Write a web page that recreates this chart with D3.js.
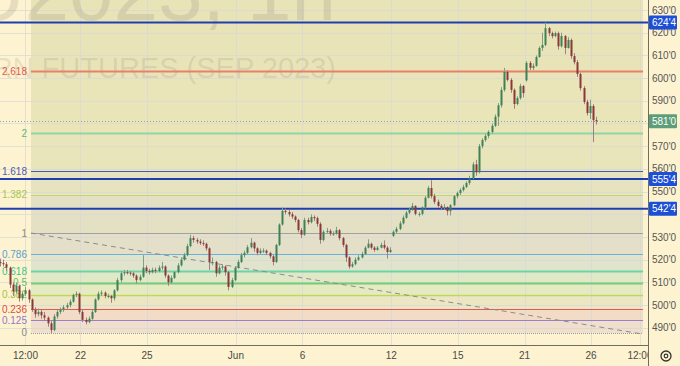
<!DOCTYPE html>
<html><head><meta charset="utf-8">
<script src="https://cdn.jsdelivr.net/npm/d3@7"></script>
<style>html,body{margin:0;padding:0;background:#fdf3d0;}svg{display:block;font-family:"Liberation Sans",Arial,sans-serif;}</style>
</head><body><svg id="c" width="680" height="366"></svg>
<script>
// ---------- DATA ----------
const candles = [ // [open, high, low, close], hourly-ish bars
[519,520.5,517,518.5],[518.5,520,517,518],[518,519,515,516.5],[516.5,517,507.5,509],[509,510,504,506],
[506,510,505,508.5],[508.5,509,501.5,503],[503,506,502,505],[505,508,504,506.5],[506.5,507,501,502.5],
[502.5,503,497,498],[498,499,494.5,496],[496,498.5,495,497],[497,498,494,495.5],[495.5,497,493,494.5],
[494.5,495,490.5,492],[492,493,487.75,489],[489,496,488.5,495],[495,498,494,497],[497,499,496,498],
[498,500,497,499],[499,501,498,500],[500,502.5,499,501.5],[501.5,505,501,504.5],[504.5,506,503.5,505],
[505,505.5,496,497],[497,498,492.5,493.5],[493.5,494.5,491.5,492.5],[492.5,495,492,494],[494,498,493.5,497],
[497,503,496.5,502.5],[502.5,506,502,505],[505,506.5,504,505.5],[505.5,506,503,504],[504,505,503,504],
[504,504.5,501,503],[503,507,502,506.5],[506.5,512,506,511],[511,515,510,514],[514,515.5,513,514.5],
[514.5,515.5,513.5,514.3],[514.3,515,513,514],[514,514.5,512,513],[513,513.5,509.5,511],[511,513.5,510.5,512.5],
[512.5,522,512,516.5],[516.5,517.5,514,515],[515,516,513.5,514.5],[514.5,516.5,514,515.5],[515.5,516.5,514,515],
[515,517.5,514.5,516.5],[516.5,519,515.5,517],[517,517.5,512,513],[513,513.5,508.5,510],[510,513,509.5,512],
[512,515,511.5,514.5],[514.5,518.5,514,517.5],[517.5,521,517,520],[520,523,519.5,522],[522,527,521.5,526],
[526,531,525.5,529.5],[529.5,530.5,527.5,528.7],[528.7,529.5,527,528],[528,529,526.5,527.3],[527.3,528.5,526,527],
[527,527.5,524,525],[525,525.5,515.5,519],[519,521,517.5,519],[519,519.5,512.5,514],[514,517.5,513.5,516.5],
[516.5,518,515.5,517],[517,517.5,513,514.5],[514.5,515,506.5,508],[508,512,507.5,511],[511,517,510.5,516.5],
[516.5,520,516,519],[519,523,518.5,522],[522,524,521,523],[523,526.5,522.5,525.5],[525.5,529.5,525,527.5],
[527.5,528,523.5,525],[525,525.5,522,523],[523,525,522.5,524],[524,525,523,524],[524,524.5,522,523],
[523,523.5,520.5,521.5],[521.5,522,517.5,519],[519,527,518.5,526.5],[526.5,536,526,535.5],[535.5,543,535,541.5],
[541.5,542.5,540,541],[541,542,539,540],[540,541,538,539],[539,539.5,536.5,537.5],[537.5,538,532,533],
[533,534,529.5,531],[531,538.5,530.5,537.5],[537.5,538.5,535.5,536.5],[536.5,540,536,538.8],[538.8,539.5,537,538.3],
[538.3,539,534.5,535.8],[535.8,536.5,527,528.7],[528.7,533,528,532.3],[532.3,534,531.5,532.7],[532.7,533.5,530.5,531.5],
[531.5,532.5,530.5,531.5],[531.5,534.5,531,533],[533,533.5,528.5,529.5],[529.5,530,525.5,526.5],[526.5,527,519,521],
[521,521.5,516,517],[517,519,516.5,518],[518,521,517.5,520],[520,522,519.5,521],[521,523.5,520.5,522.5],
[522.5,526,522,525.3],[525.3,529,525,527],[527,527.5,524.5,525.3],[525.3,526,523.5,524.3],[524.3,526,524,525.3],
[525.3,527.5,525,526.5],[526.5,528.5,524.5,525.3],[525.3,526,520.5,523.4],[523.4,525.5,523,524.3],[530.5,533,530,532.3],
[532.3,534.5,531.5,533.6],[533.6,537,533,536],[536,539.5,535.5,538.5],[538.5,541.5,538,540.7],[540.7,543,540,542],
[542,545,541.5,543.7],[543.7,544,539.5,540.2],[540.2,541,539,540.2],[540.2,543.5,539.5,543],[543,548,542.5,547.3],
[547.3,552.5,547,551.6],[551.6,555,547,548],[548,549,544.5,545.5],[545.5,546.5,543,543.7],[543.7,544.5,542,542.8],
[542.8,544.5,542,543.2],[543.2,543.5,539.5,541.4],[541.4,544.5,539.5,544],[544,548.5,543.5,548],[548,550,547,549.4],
[549.4,551.5,548.5,550.7],[550.7,553,550,552],[552,554.5,551.5,553.8],[553.8,557,553,556],[556,563,555.5,562],
[562,564,557,558.5],[558.5,571,558,570],[570,573.5,569,572.7],[572.7,575.5,572,574.5],[574.5,577,573.5,576.3],
[576.3,580,575.5,579],[579,584,578.5,583],[583,589,579,588],[588,596,587,594.8],[594.8,604.5,594,602.7],
[602.7,603.5,598.5,599.2],[599.2,600,593.5,594.8],[594.8,595.5,586.5,588.6],[588.6,592,588,591.2],[591.2,597.5,590.5,596.5],
[596.5,597,591.5,593.4],[599,607.5,598.5,606.7],[606.7,607.5,603.5,604.5],[604.5,606.5,603.5,605.4],[605.4,610,605,609.3],
[609.3,614,609,613.3],[613.3,620,612,614.6],[614.6,624.5,614,622],[622,622.5,618.5,619.8],[619.8,620.5,617.5,618.5],
[618.5,620.5,618,619.8],[619.8,620.5,612.5,614],[614,620,613.5,618.5],[618.5,619,610.5,613.3],[613.3,618,613,616.8],
[616.8,617.5,608.5,609.7],[609.7,611,606,607],[607,608,600.5,601.8],[601.8,602.5,594.5,595.6],[595.6,596.5,588.5,589.5],
[589.5,590.5,583.5,584.6],[584.6,590.5,582,587.7],[587.7,588.5,571.8,581.5],[581.5,583,579.5,581]
];
const firstCandleDay = -3.626;   // trading-day units, "22" = 0
const barsPerDay = 7;
const timeTickDays   = [-2.48, 0, 3, 7, 10, 14, 17, 20, 23, 25.2];
const timeTickLabels = ["12:00","22","25","Jun","6","12","15","21","26","12:00"];
const priceTicks = [490,500,510,520,530,540,550,560,570,580,590,600,610,620,630];
const fibLevels  = [0, 0.125, 0.236, 0.382, 0.5, 0.618, 0.786, 1, 1.382, 1.618, 2, 2.618];
const fibLabels  = ["0","0.125","0.236","0.382","0.5","0.618","0.786","1","1.382","1.618","2","2.618"];
const fibColors  = ["#8a8a8a","#9575cd","#e04a4a","#a4c43c","#5cbf5c","#3cc58c","#5aa0d0","#8a8a8a","#a4c84a","#4b5cb8","#5cb870","#e05a50"];
const fibLineColors = ["#9a9a9a","#9a80cc","#e05858","#bcd860","#74cc74","#6ad6a6","#6eb0dc","#a0a0a0","#bcd870","#4a58b8","#8fd6a2","#e8806c"];
const fibLineWidths = [1,1,1,1.5,2,2,1,1,1,1,2,2];
const fibZoneFills  = ["#efdfcc","#f3dcc6","#ece6c2","#e6eac2","#e1e8c8","#e1e4cc","#e3dfc9","#e4e0c4","#e6e4c0","#e9e5ba","#eae5b8","#e9e4b7"];
const fibLow = 487.75, fibHigh = 531.75;
const fibStartDay = -2.23, fibEndDay = 25.34;
const horizontalLevels = [624.5, 555.5, 542.5];
const lastPrice = 581;
const trendLine = [[-2.23, 531.75], [25.34, 487.2]];
const watermark1 = "ZCU2023, 1h";
const watermark2 = "CORN FUTURES (SEP 2023)";

// ---------- LAYOUT ----------
const W = 680, H = 366, PW = 648, PH = 345;
const x = d3.scaleLinear().domain([-3.626, 25.563]).range([0, PW]);
const y = d3.scaleLinear().domain([490, 630]).range([327.8, 10]);
const fmt = p => Math.floor(p) + "'" + Math.round((p - Math.floor(p)) * 8);
const fibPrice = l => fibLow + l * (fibHigh - fibLow);

const svg = d3.select("#c");
const defs = svg.append("defs");
defs.append("clipPath").attr("id","pc").append("rect").attr("width",PW).attr("height",PH);
defs.append("clipPath").attr("id","tc").append("rect").attr("width",PW).attr("height",H);
svg.append("rect").attr("width",W).attr("height",H).attr("fill","#fdf3d0");
const g = svg.append("g").attr("clip-path","url(#pc)");

// fib zones
const fx0 = x(fibStartDay), fx1 = x(fibEndDay);
const bounds = fibLevels.map(fibPrice).concat([700]);
g.selectAll("rect.zone").data(fibZoneFills).join("rect").attr("class","zone")
  .attr("x", fx0).attr("width", fx1 - fx0)
  .attr("y", (d,i) => y(bounds[i+1])).attr("height", (d,i) => y(bounds[i]) - y(bounds[i+1]))
  .attr("fill", d => d);

// grid
g.selectAll("line.hg").data(priceTicks).join("line").attr("class","hg")
  .attr("x1",0).attr("x2",PW).attr("y1",d=>Math.round(y(d))+0.5).attr("y2",d=>Math.round(y(d))+0.5)
  .attr("stroke","#d8d8d4").attr("stroke-opacity",0.75);
g.selectAll("line.vg").data(timeTickDays).join("line").attr("class","vg")
  .attr("y1",0).attr("y2",PH).attr("x1",d=>Math.round(x(d))+0.5).attr("x2",d=>Math.round(x(d))+0.5)
  .attr("stroke","#d8d8d4").attr("stroke-opacity",0.75);

// watermark
g.append("text").attr("x",336).attr("y",20).attr("text-anchor","end").attr("font-size",80)
  .attr("fill","rgba(90,90,90,0.14)").text(watermark1);
g.append("text").attr("x",336).attr("y",78).attr("text-anchor","end").attr("font-size",29)
  .attr("fill","rgba(90,90,90,0.14)").text(watermark2);

// fib lines
g.selectAll("line.fib").data(fibLevels).join("line").attr("class","fib")
  .attr("x1",fx0).attr("x2",fx1)
  .attr("y1",d=>Math.round(y(fibPrice(d)))+0.5).attr("y2",d=>Math.round(y(fibPrice(d)))+0.5)
  .attr("stroke",(d,i)=>fibLineColors[i]).attr("stroke-width",(d,i)=>fibLineWidths[i])
  .attr("stroke-dasharray",(d,i)=> i===0 ? "1,1" : null);
g.selectAll("text.fibl").data(fibLevels).join("text").attr("class","fibl")
  .attr("x",fx0-4).attr("y",d=>y(fibPrice(d))).attr("dy","0.35em").attr("text-anchor","end")
  .attr("font-size",10).attr("fill",(d,i)=>fibColors[i]).text((d,i)=>fibLabels[i]);

// trend line
g.append("line").attr("x1",x(trendLine[0][0])).attr("y1",y(trendLine[0][1]))
  .attr("x2",x(trendLine[1][0])).attr("y2",y(trendLine[1][1]))
  .attr("stroke","#8c8c8c").attr("stroke-width",1).attr("stroke-dasharray","5,4");

// horizontal levels
g.selectAll("line.hl").data(horizontalLevels).join("line").attr("class","hl")
  .attr("x1",0).attr("x2",PW).attr("y1",d=>y(d)).attr("y2",d=>y(d))
  .attr("stroke","#1f3fb0").attr("stroke-width",2);

// last price line
g.append("line").attr("x1",0).attr("x2",PW).attr("y1",Math.round(y(lastPrice))+0.5).attr("y2",Math.round(y(lastPrice))+0.5)
  .attr("stroke","#8aa890").attr("stroke-dasharray","1,2");

// candles
const cx = i => x(firstCandleDay + i / barsPerDay);
const cg = g.append("g");
candles.forEach((c,i) => {
  const [o,h,l,cl] = c, up = cl >= o;
  const col = up ? "#3f8055" : "#8a3838";
  const xx = Math.round(cx(i));
  cg.append("line").attr("x1",xx+0.5).attr("x2",xx+0.5).attr("y1",y(h)).attr("y2",y(l))
    .attr("stroke", up ? "#7f9f88" : "#a08080").attr("stroke-width",1);
  const top = y(Math.max(o,cl)), bot = y(Math.min(o,cl));
  cg.append("rect").attr("x",xx-0.5).attr("width",2).attr("y",top).attr("height",Math.max(1,bot-top)).attr("fill",col);
});

// axes
svg.append("line").attr("x1",0).attr("x2",PW).attr("y1",PH+0.5).attr("y2",PH+0.5).attr("stroke","#6e6e60");
svg.append("line").attr("x1",PW+0.5).attr("x2",PW+0.5).attr("y1",0).attr("y2",H).attr("stroke","#6e6e60");

const ax = svg.append("g").attr("clip-path","url(#tc)");
ax.selectAll("text").data(timeTickDays).join("text").attr("x",d=>x(d)).attr("y",355).attr("dy","0.35em")
  .attr("text-anchor","middle").attr("font-size",10).attr("fill","#4a4a4a").text((d,i)=>timeTickLabels[i]);

// price ticks (skip those hidden behind a badge)
const badges = horizontalLevels.map(p=>({p, c:"#1c4fd6"})).concat([{p:lastPrice, c:"#5d9e78"}]);
const visibleTicks = priceTicks.filter(t => !badges.some(b => Math.abs(y(b.p) - y(t)) < 8));
svg.selectAll("text.pt").data(visibleTicks).join("text").attr("class","pt")
  .attr("x",652).attr("y",d=>y(d)).attr("dy","0.35em").attr("font-size",10).attr("fill","#555").text(d=>fmt(d));

badges.forEach(b => {
  svg.append("rect").attr("x",649).attr("y",y(b.p)-7).attr("width",28).attr("height",14).attr("fill",b.c).attr("rx",1);
  svg.append("text").attr("x",652).attr("y",y(b.p)).attr("dy","0.35em").attr("font-size",10).attr("fill","#fff").text(fmt(b.p));
});

// gear icon
svg.append("circle").attr("cx",666).attr("cy",356).attr("r",5).attr("fill","none").attr("stroke","#333").attr("stroke-width",1.3);
svg.append("circle").attr("cx",666).attr("cy",356).attr("r",1.8).attr("fill","none").attr("stroke","#333").attr("stroke-width",1.2);
</script></body></html>
